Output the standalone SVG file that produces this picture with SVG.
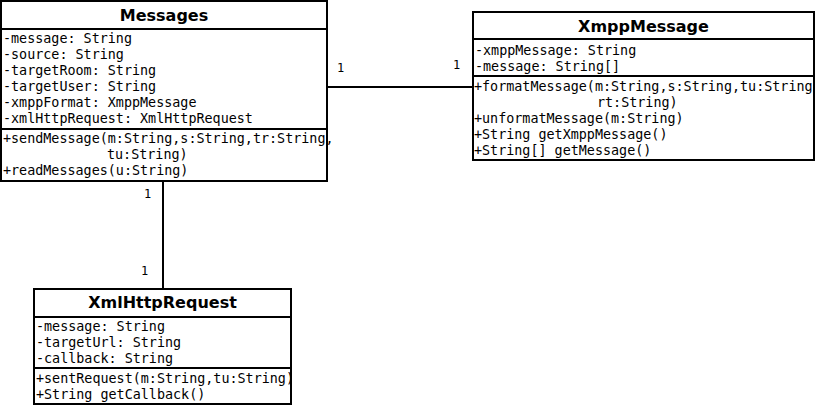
<svg xmlns="http://www.w3.org/2000/svg" width="815" height="405" viewBox="0 0 815 405">
<style>
.box{fill:#fff;stroke:#000;stroke-width:2}
.frame{fill:none;stroke:#000;stroke-width:2}
.sep{stroke:#000;stroke-width:2}
.title{font-family:"DejaVu Sans",sans-serif;font-weight:bold;font-size:16px;text-anchor:middle;fill:#000}
.m{font-family:"DejaVu Sans Mono","Liberation Mono",monospace;font-size:13.4px;fill:#000}
.lbl{font-family:"DejaVu Sans Mono","Liberation Mono",monospace;font-size:12px;fill:#000}
.conn{stroke:#000;stroke-width:2;fill:none}
</style>
<rect width="815" height="405" fill="#fff"/>
<g id="connectors">
<line class="conn" x1="327" y1="87" x2="473" y2="87"/>
<line class="conn" x1="163" y1="181" x2="163" y2="289"/>
<text class="lbl" x="337" y="72">1</text>
<text class="lbl" x="453" y="69">1</text>
<text class="lbl" x="144" y="198">1</text>
<text class="lbl" x="141" y="275">1</text>
</g>
<g id="Messages">
<rect class="box" x="1" y="1" width="326" height="180"/>
<text class="title" x="164" y="21">Messages</text>
<line class="sep" x1="1" y1="29" x2="327" y2="29"/>
<text class="m" x="3" y="43">-message: String</text>
<text class="m" x="3" y="59">-source: String</text>
<text class="m" x="3" y="75">-targetRoom: String</text>
<text class="m" x="3" y="91">-targetUser: String</text>
<text class="m" x="3" y="107">-xmppFormat: XmppMessage</text>
<text class="m" x="3" y="123">-xmlHttpRequest: XmlHttpRequest</text>
<line class="sep" x1="1" y1="129" x2="327" y2="129"/>
<text class="m" x="3" y="143">+sendMessage(m:String,s:String,tr:String,</text>
<text class="m" x="107" y="159">tu:String)</text>
<text class="m" x="3" y="175">+readMessages(u:String)</text>
<rect class="frame" x="1" y="1" width="326" height="180"/>
</g>
<g id="XmppMessage">
<rect class="box" x="473" y="12" width="341" height="148"/>
<text class="title" x="643.5" y="32">XmppMessage</text>
<line class="sep" x1="473" y1="39" x2="814" y2="39"/>
<text class="m" x="475" y="55">-xmppMessage: String</text>
<text class="m" x="475" y="71">-message: String[]</text>
<line class="sep" x1="473" y1="76" x2="814" y2="76"/>
<text class="m" x="474" y="91">+formatMessage(m:String,s:String,tu:String</text>
<text class="m" x="597" y="107">rt:String)</text>
<text class="m" x="474" y="123">+unformatMessage(m:String)</text>
<text class="m" x="474" y="139">+String getXmppMessage()</text>
<text class="m" x="474" y="155">+String[] getMessage()</text>
<rect class="frame" x="473" y="12" width="341" height="148"/>
</g>
<g id="XmlHttpRequest">
<rect class="box" x="34" y="289" width="257" height="115"/>
<text class="title" x="162.5" y="308">XmlHttpRequest</text>
<line class="sep" x1="34" y1="317" x2="291" y2="317"/>
<text class="m" x="36" y="331">-message: String</text>
<text class="m" x="36" y="347">-targetUrl: String</text>
<text class="m" x="36" y="363">-callback: String</text>
<line class="sep" x1="34" y1="368" x2="291" y2="368"/>
<text class="m" x="36" y="383">+sentRequest(m:String,tu:String)</text>
<text class="m" x="36" y="399">+String getCallback()</text>
<rect class="frame" x="34" y="289" width="257" height="115"/>
</g>
</svg>
